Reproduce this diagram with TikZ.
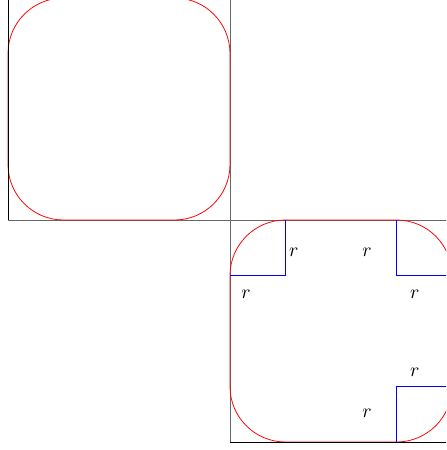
\documentclass[tikz,border=0pt]{standalone}
\begin{document}
\begin{tikzpicture}[
  roundbox/.style={draw=red, thin, rounded corners=1cm},
  radmark/.style={draw=blue, thin},
  outeredge/.style={draw=black, thin},
  seam/.style={draw=black!60, thin},
  lbl/.style={inner sep=0pt, font=\normalsize}
]
\useasboundingbox (-0.144,-0.144) rectangle (7.892,7.964);
\clip (-0.144,-0.144) rectangle (7.892,7.964);
% corner points
\coordinate (A1) at (0,4);
\coordinate (A2) at (4,8);
\coordinate (B1) at (4,0);
\coordinate (B2) at (8,4);
% shared seams
\coordinate (h0) at (0,4);
\coordinate (h1) at (8.2,4);
\coordinate (v0) at (4,0);
\coordinate (v1) at (4,8.2);
\draw[seam] (h0) -- (h1);
\draw[seam] (v0) -- (v1);
% rounded squares
\draw[roundbox] (A1) rectangle (A2);
\draw[roundbox] (B1) rectangle (B2);
% solid outer edges
\coordinate (t0) at (0,8.2);
\coordinate (r0) at (8.2,0);
\draw[outeredge] (A1) -- (t0);
\draw[outeredge] (B1) -- (r0);
% radius markers
\coordinate (ka) at (5,4);
\coordinate (kb) at (5,3);
\coordinate (kc) at (4,3);
\coordinate (q1) at (7,4);
\coordinate (q2) at (7,3);
\coordinate (q3) at (8,3);
\coordinate (s1) at (8,1);
\coordinate (s2) at (7,1);
\coordinate (s3) at (7,0);
\draw[radmark] (q1) -- (q2) -- (q3) (s1) -- (s2) -- (s3) (ka) -- (kb) -- (kc);
% labels
\node[lbl] (l1) at (5.15,3.42) {$r$};
\node[lbl] (l2) at (4.29,2.67) {$r$};
\node[lbl] (l3) at (6.47,3.42) {$r$};
\node[lbl] (l4) at (7.33,2.66) {$r$};
\node[lbl] (l5) at (7.33,1.25) {$r$};
\node[lbl] (l6) at (6.47,0.52) {$r$};
\end{tikzpicture}
\end{document}
